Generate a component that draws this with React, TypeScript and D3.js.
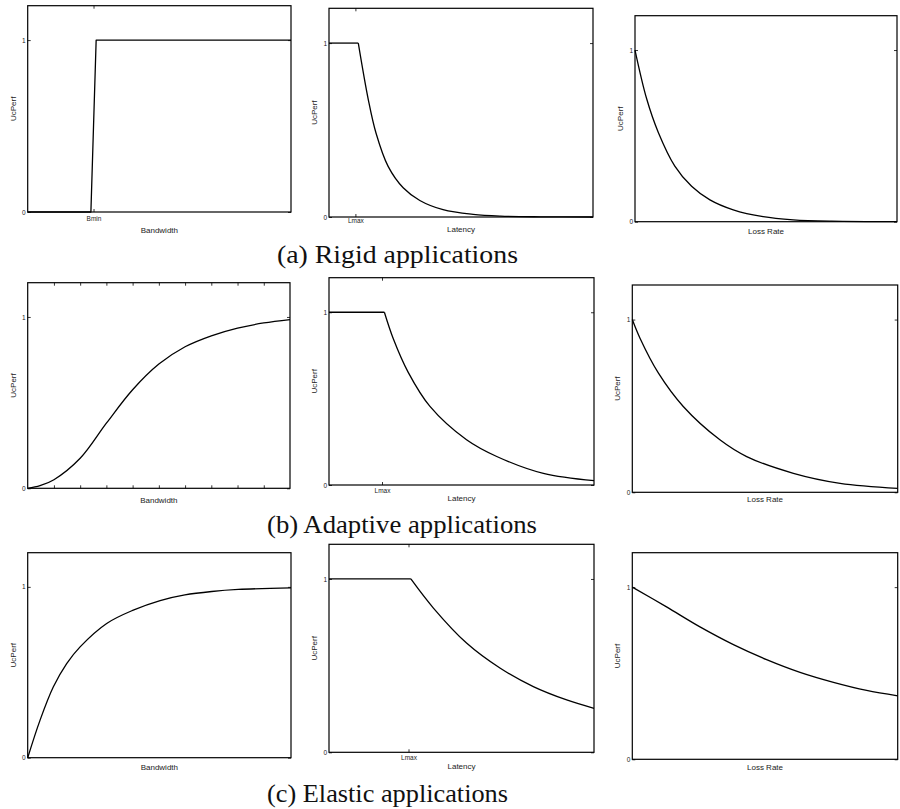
import React, { useRef, useEffect } from 'react';
import * as d3 from 'd3';

// every panel runs x 0..10 and y 0..1.2 (ticks at 0 and 1)
type Pt = [number, number];

// (a) rigid
const rigidBandwidth: Pt[] = [[0, 0], [2.4, 0], [2.6, 1], [10, 1]];
const rigidLatencyPlateau: Pt[] = [[0, 1], [1.11, 1]];
const rigidLatencyDecay: Pt[] = [
  [1.11, 1], [1.49, 0.674], [1.78, 0.483], [2.24, 0.291], [2.81, 0.168], [3.44, 0.095],
  [4.32, 0.042], [5.46, 0.015], [6.5, 0.005], [8, 0.001], [10, 0],
];
const rigidLoss: Pt[] = [
  [0, 1], [0.445, 0.716], [0.89, 0.52], [1.52, 0.324], [2.16, 0.206], [2.86, 0.127],
  [3.75, 0.069], [4.89, 0.029], [6.04, 0.011], [7.5, 0.003], [10, 0],
];

// (b) adaptive
const adaptiveBandwidth: Pt[] = [
  [0, 0], [0.47, 0.015], [1, 0.05], [2, 0.175], [3, 0.38], [4, 0.575], [5, 0.725],
  [6, 0.826], [7, 0.89], [8, 0.935], [9, 0.965], [10, 0.985],
];
const adaptiveLatencyPlateau: Pt[] = [[0, 1], [2.09, 1]];
const adaptiveLatencyDecay: Pt[] = [
  [2.09, 1], [2.43, 0.845], [2.99, 0.652], [3.81, 0.455], [5.19, 0.262], [6.33, 0.165],
  [8.09, 0.067], [10, 0.025],
];
const adaptiveLoss: Pt[] = [
  [0, 1], [0.29, 0.892], [0.98, 0.691], [1.92, 0.497], [3.3, 0.304], [4.31, 0.207],
  [6.07, 0.11], [7.83, 0.052], [10, 0.023],
];

// (c) elastic
const elasticBandwidth: Pt[] = [
  [0, 0], [0.47, 0.22], [0.975, 0.415], [1.48, 0.551], [1.99, 0.649], [3, 0.786],
  [4.01, 0.864], [5.03, 0.92], [5.97, 0.953], [6.99, 0.973], [8, 0.985], [10, 0.994],
];
const elasticLatencyPlateau: Pt[] = [[0, 1], [3.09, 1]];
const elasticLatencyDecay: Pt[] = [
  [3.09, 1], [3.94, 0.832], [5.19, 0.63], [6.45, 0.486], [7.71, 0.379], [8.97, 0.302], [10, 0.254],
];
const elasticLoss: Pt[] = [
  [0, 1], [1.29, 0.885], [2.55, 0.769], [3.81, 0.666], [5.06, 0.579], [6.32, 0.505],
  [7.58, 0.447], [8.83, 0.4], [10, 0.369],
];

// tick marks
const yTickValues = [0, 1];
const rigidBmin = 2.5;
const rigidLmax = 1;
const adaptiveLmax = 2;
const elasticLmax = 3;
const adaptiveBandwidthTicks = [1, 2, 3, 4, 5, 6, 7, 8, 9];

const captions = ['(a) Rigid applications', '(b) Adaptive applications', '(c) Elastic applications'];

// layout: [left, right, top, bottom] of each axes box
const panels = [
  { box: [27.7, 291, 5.7, 212], lines: [rigidBandwidth], smooth: [false], xLabel: 'Bandwidth', xLabelY: 233, xTicks: [rigidBmin], xTickText: 'Bmin', pad: 4.5 },
  { box: [329, 593, 8.3, 217], lines: [rigidLatencyPlateau, rigidLatencyDecay], smooth: [false, true], xLabel: 'Latency', xLabelY: 232, xTicks: [rigidLmax], xTickText: 'Lmax', pad: 1.5 },
  { box: [635, 897, 15.7, 221.7], lines: [rigidLoss], smooth: [true], xLabel: 'Loss Rate', xLabelY: 233.5, xTicks: [], xTickText: '', pad: 4 },
  { box: [27.7, 290, 282.7, 488.3], lines: [adaptiveBandwidth], smooth: [true], xLabel: 'Bandwidth', xLabelY: 503, xTicks: adaptiveBandwidthTicks, xTickText: '', pad: 4 },
  { box: [329, 594, 277.7, 485], lines: [adaptiveLatencyPlateau, adaptiveLatencyDecay], smooth: [false, true], xLabel: 'Latency', xLabelY: 500.5, xTicks: [adaptiveLmax], xTickText: 'Lmax', pad: 3.5 },
  { box: [632.3, 897.7, 285, 492.3], lines: [adaptiveLoss], smooth: [true], xLabel: 'Loss Rate', xLabelY: 502, xTicks: [], xTickText: '', pad: 4 },
  { box: [27.7, 291, 552.7, 757.7], lines: [elasticBandwidth], smooth: [true], xLabel: 'Bandwidth', xLabelY: 769.5, xTicks: [], xTickText: '', pad: 4 },
  { box: [329, 594, 544.3, 752.3], lines: [elasticLatencyPlateau, elasticLatencyDecay], smooth: [false, true], xLabel: 'Latency', xLabelY: 769, xTicks: [elasticLmax], xTickText: 'Lmax', pad: 3.5 },
  { box: [632.3, 897.7, 552.7, 759.3], lines: [elasticLoss], smooth: [true], xLabel: 'Loss Rate', xLabelY: 769.5, xTicks: [], xTickText: '', pad: 4 },
];

const captionLayout = [
  { x: 277, y: 263, w: 241 },
  { x: 267, y: 533, w: 270 },
  { x: 267, y: 802, w: 241 },
];

const SANS = '"Liberation Sans", Arial, Helvetica, sans-serif';
const SERIF = '"Liberation Serif", "Times New Roman", serif';

export default function App() {
  const svgRef = useRef<SVGSVGElement>(null);

  useEffect(() => {
    const svg = d3.select(svgRef.current);
    svg.selectAll('*').remove();

    panels.forEach((p) => {
      const [x0, x1, yTop, yBottom] = p.box;
      const x = d3.scaleLinear().domain([0, 10]).range([x0, x1]);
      const y = d3.scaleLinear().domain([0, 1.2]).range([yBottom, yTop]);
      const g = svg.append('g');

      // inward ticks, MATLAB style
      const styleAxis = (sel: any) => {
        sel.select('.domain').remove();
        sel.selectAll('line').attr('stroke', '#000').attr('stroke-width', 0.8);
        sel.selectAll('text').attr('font-family', SANS).attr('font-size', 6.5).attr('fill', '#222');
      };

      g.append('g')
        .attr('transform', `translate(${x0},0)`)
        .call(d3.axisLeft(y).tickValues(yTickValues).tickSize(-3).tickPadding(2).tickFormat(d3.format('d')))
        .call(styleAxis);
      g.append('g')
        .attr('transform', `translate(${x1},0)`)
        .call(d3.axisRight(y).tickValues(yTickValues).tickSize(-3).tickFormat(() => ''))
        .call(styleAxis);
      g.append('g')
        .attr('transform', `translate(0,${yBottom})`)
        .call(d3.axisBottom(x).tickValues(p.xTicks).tickSize(-3).tickPadding(p.pad).tickFormat(() => p.xTickText))
        .call(styleAxis);
      g.append('g')
        .attr('transform', `translate(0,${yTop})`)
        .call(d3.axisTop(x).tickValues(p.xTicks).tickSize(-3).tickFormat(() => ''))
        .call(styleAxis);

      // curves
      p.lines.forEach((pts, i) => {
        const line = d3
          .line<Pt>()
          .x((d) => x(d[0]))
          .y((d) => y(d[1]))
          .curve(p.smooth[i] ? d3.curveCatmullRom.alpha(0.5) : d3.curveLinear);
        g.append('path')
          .attr('d', line(pts))
          .attr('fill', 'none')
          .attr('stroke', '#000')
          .attr('stroke-width', 1.3)
          .attr('stroke-linejoin', 'round');
      });

      // axes box
      g.append('rect')
        .attr('x', x0)
        .attr('y', yTop)
        .attr('width', x1 - x0)
        .attr('height', yBottom - yTop)
        .attr('fill', 'none')
        .attr('stroke', '#000')
        .attr('stroke-width', 1.2);

      g.append('text')
        .attr('x', (x0 + x1) / 2)
        .attr('y', p.xLabelY)
        .attr('text-anchor', 'middle')
        .attr('font-family', SANS)
        .attr('font-size', 8)
        .attr('fill', '#222')
        .text(p.xLabel);

      g.append('text')
        .attr('transform', `translate(${x0 - 12},${(yTop + yBottom) / 2}) rotate(-90)`)
        .attr('text-anchor', 'middle')
        .attr('font-family', SANS)
        .attr('font-size', 8)
        .attr('fill', '#222')
        .text('UcPerf');
    });

    // subfigure captions
    captions.forEach((c, i) => {
      const l = captionLayout[i];
      svg
        .append('text')
        .attr('x', l.x)
        .attr('y', l.y)
        .attr('font-family', SERIF)
        .attr('font-size', 25)
        .attr('fill', '#111')
        .attr('textLength', l.w)
        .attr('lengthAdjust', 'spacingAndGlyphs')
        .text(c);
    });
  }, []);

  return (
    <svg
      ref={svgRef}
      width={900}
      height={809}
      style={{ position: 'absolute', left: 0, top: 0, background: '#fff' }}
    />
  );
}
